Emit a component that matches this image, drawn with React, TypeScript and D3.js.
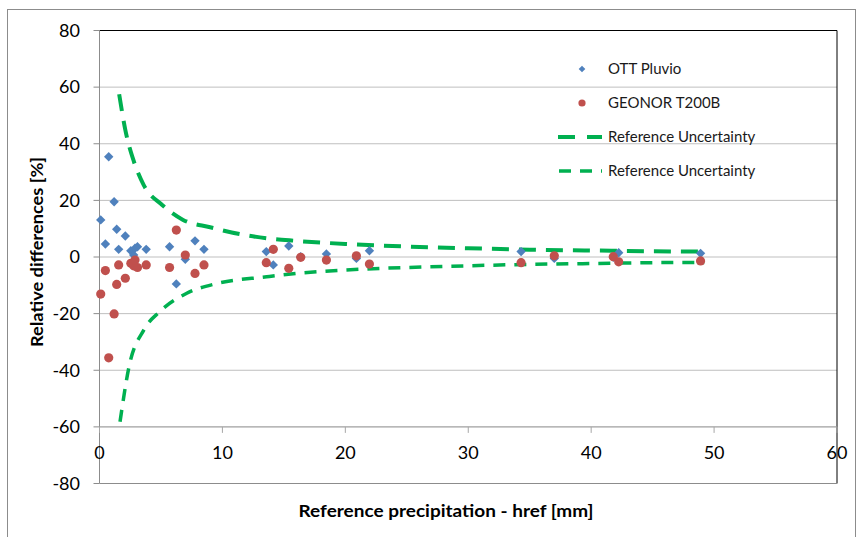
import React from 'react'
import * as d3 from 'd3'

// reference precipitation of each event [mm]
const href = [0.1, 0.48, 0.75, 1.19, 1.4, 1.56, 2.1, 2.55, 2.78, 2.89, 3.09, 3.8, 5.7, 6.25, 6.98, 7.77, 8.5,
  13.57, 14.14, 15.4, 16.37, 18.46, 20.9, 21.96, 34.3, 37.0, 41.8, 42.24, 48.9]
// relative differences [%]
const ottPluvio = [13.1, 4.6, 35.4, 19.5, 9.8, 2.7, 7.4, 2.2, 0.7, 3.1, 3.6, 2.7, 3.6, -9.5, -0.8, 5.7, 2.7,
  1.9, -2.8, 3.9, 0.1, 1.1, -0.5, 2.2, 1.9, -0.5, -0.1, 1.5, 1.3]
const geonor = [-13.1, -4.8, -35.6, -20.1, -9.7, -2.8, -7.5, -2.2, -3.1, -1.1, -3.7, -2.8, -3.7, 9.5, 0.7, -5.8, -2.8,
  -2.0, 2.7, -4.0, -0.1, -1.1, 0.4, -2.5, -2.0, 0.4, 0.1, -1.7, -1.4]

// reference uncertainty curves
const upX = [1.6, 2.1, 2.8, 3.6, 5.1, 6.8, 9, 11.4, 13.6, 16, 20, 25, 30, 35, 40, 45, 48.7]
const upU = [57.5, 44.9, 33.7, 25.4, 18.4, 13.1, 10.5, 8.1, 6.6, 5.7, 4.6, 3.7, 3.1, 2.6, 2.3, 2.0, 1.9]
const lowX = [1.67, 2.4, 3.6, 4.9, 7.1, 9.5, 13.6, 16, 20, 25, 30, 35, 40, 45, 49.2]
const lowU = [-58.2, -38.8, -25.8, -19.3, -12.8, -9.4, -7.0, -5.8, -4.6, -3.7, -3.1, -2.6, -2.3, -2.0, -1.9]

const xTicks = [0, 10, 20, 30, 40, 50, 60]
const yTicks = [80, 60, 40, 20, 0, -20, -40, -60, -80]

const font = 'Lato, "Liberation Sans", sans-serif'
const green = '#00b050'
const blue = '#4f81bd'
const red = '#c0504d'

export default function App() {
  const x = d3.scaleLinear().domain([0, 60]).range([99.5, 837])
  const y = d3.scaleLinear().domain([-80, 80]).range([483.5, 30.5])

  const line = d3.line<[number, number]>()
    .x(d => x(d[0]))
    .y(d => y(d[1]))
    .curve(d3.curveMonotoneX)

  const upPath = line(upX.map((v, i) => [v, upU[i]] as [number, number])) || ''
  const lowPath = line(lowX.map((v, i) => [v, lowU[i]] as [number, number])) || ''

  // excel-style diamond = square turned 45 degrees
  const diamond = d3.symbol().type(d3.symbolSquare).size(44)() || ''
  const legDiamond = d3.symbol().type(d3.symbolSquare).size(22)() || ''

  const legendRows = [
    { label: 'OTT Pluvio', y: 69 },
    { label: 'GEONOR T200B', y: 103 },
    { label: 'Reference Uncertainty', y: 137 },
    { label: 'Reference Uncertainty', y: 171 },
  ]

  return (
    <div style={{ position: 'absolute', left: 0, top: 0 }}>
      <svg width={862} height={537} style={{ display: 'block', background: '#fff' }} fontFamily={font}>
        <rect x={7.5} y={9.5} width={848} height={540} fill="#fff" stroke="#8c8c8c" />

        {/* gridlines */}
        {yTicks.filter(t => t !== 80 && t !== -80).map(t => (
          <line key={t} x1={x(0)} x2={x(60)} y1={y(t)} y2={y(t)} stroke="#bfbfbf" strokeWidth={1} />
        ))}
        {/* plot frame */}
        <line x1={x(0)} x2={x(60)} y1={y(80)} y2={y(80)} stroke="#000" />
        <line x1={x(60)} x2={x(60)} y1={y(80)} y2={y(-80)} stroke="#000" />
        <line x1={x(0)} x2={x(60)} y1={y(-80)} y2={y(-80)} stroke="#8c8c8c" />
        <line x1={x(0)} x2={x(0)} y1={y(80)} y2={y(-80)} stroke="#8c8c8c" />

        {/* y axis */}
        {yTicks.map(t => (
          <g key={t}>
            <line x1={x(0) - 6} x2={x(0)} y1={y(t)} y2={y(t)} stroke="#8c8c8c" />
            <text x={80} y={y(t)} dy="0.35em" textAnchor="end" fontSize={18} fill="#000">{t}</text>
          </g>
        ))}

        {/* x axis crossing at -60 */}
        <line x1={x(0)} x2={x(60)} y1={y(-60)} y2={y(-60)} stroke="#a6a6a6" />
        {xTicks.map(t => (
          <g key={t}>
            <line x1={x(t)} x2={x(t)} y1={y(-60)} y2={y(-60) + 6} stroke="#a6a6a6" />
            <text x={x(t)} y={453} dy="0.35em" textAnchor="middle" fontSize={18} fill="#000">{t}</text>
          </g>
        ))}

        {/* uncertainty */}
        <path d={upPath} fill="none" stroke={green} strokeWidth={4} strokeDasharray="17,10" />
        <path d={lowPath} fill="none" stroke={green} strokeWidth={3.5} strokeDasharray="12,9" />

        {/* points */}
        {href.map((h, i) => (
          <path key={'b' + i} d={diamond} transform={`translate(${x(h)},${y(ottPluvio[i])}) rotate(45)`} fill={blue} />
        ))}
        {href.map((h, i) => (
          <circle key={'r' + i} cx={x(h)} cy={y(geonor[i])} r={4.6} fill={red} />
        ))}

        {/* legend */}
        <path d={legDiamond} transform={`translate(582,${legendRows[0].y}) rotate(45)`} fill={blue} />
        <circle cx={582} cy={legendRows[1].y} r={3.6} fill={red} />
        <line x1={555} x2={602} y1={legendRows[2].y} y2={legendRows[2].y} stroke={green} strokeWidth={4} strokeDasharray="17,12" strokeDashoffset={-3} />
        <line x1={555} x2={602} y1={legendRows[3].y} y2={legendRows[3].y} stroke={green} strokeWidth={3.5} strokeDasharray="12,9" strokeDashoffset={-4} />
        {legendRows.map((r, i) => (
          <text key={i} x={608} y={r.y} dy="0.35em" fontSize={15} fill="#1a1a1a">{r.label}</text>
        ))}

        {/* titles */}
        <text x={446} y={511} dy="0.35em" textAnchor="middle" fontSize={17} fontWeight="bold" fill="#000"
          textLength={295} lengthAdjust="spacingAndGlyphs">Reference precipitation - href [mm]</text>
        <text transform="translate(37,252) rotate(-90)" dy="0.35em" textAnchor="middle" fontSize={17} fontWeight="bold" fill="#000"
          textLength={190} lengthAdjust="spacingAndGlyphs">Relative differences [%]</text>
      </svg>
    </div>
  )
}
